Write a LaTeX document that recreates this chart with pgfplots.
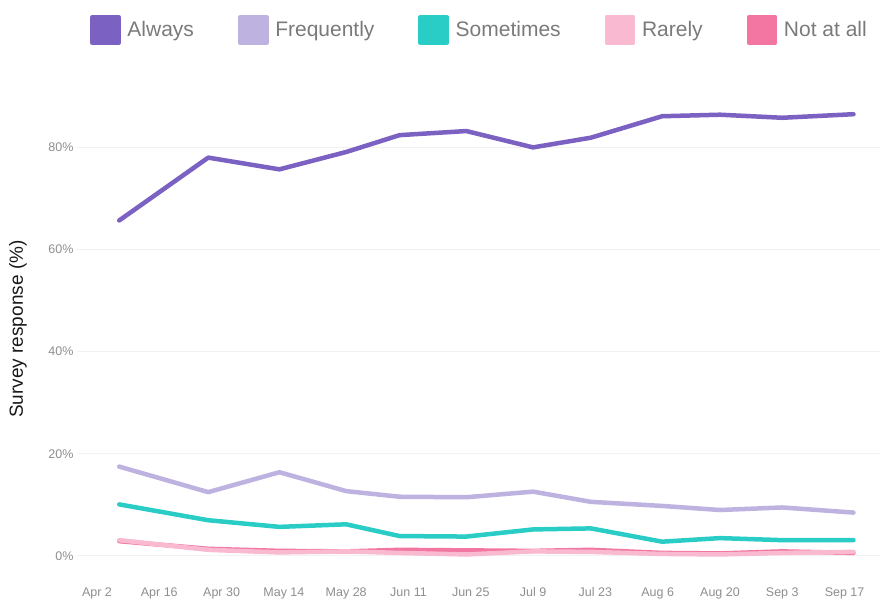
\documentclass[border=0pt]{standalone}
\usepackage{pgfplots}
\usepackage{pgfplotstable}
\pgfplotsset{compat=1.18}
\usepackage{fontspec}
\setmainfont{Liberation Sans}

\definecolor{always}{HTML}{7B62C2}
\definecolor{freq}{HTML}{BEB2E0}
\definecolor{sometimes}{HTML}{2ACCC6}
\definecolor{rarely}{HTML}{F9B9D1}
\definecolor{notatall}{HTML}{F276A1}
\definecolor{gridc}{HTML}{F2F2F2}
\definecolor{tickc}{HTML}{8E8E8E}
\definecolor{legc}{HTML}{7A7A7A}

% day = days after Apr 2
\pgfplotstableread{
day always freq some rare none
5   65.7 17.5 10.1 3.1 2.9
25  78.0 12.5  7.0 1.2 1.4
41  75.7 16.4  5.7 0.7 1.0
56  79.1 12.7  6.2 0.9 0.9
68  82.4 11.6  3.9 0.6 1.2
83  83.2 11.5  3.8 0.3 1.1
98  80.0 12.6  5.2 0.9 1.0
111 81.9 10.6  5.4 0.8 1.2
127 86.1  9.8  2.8 0.4 0.6
140 86.4  9.0  3.5 0.3 0.5
154 85.8  9.5  3.1 0.6 0.9
170 86.5  8.5  3.1 0.8 0.6
}\survey

\begin{document}
\begin{tikzpicture}[x=1pt,y=1pt]
\useasboundingbox (0,0) rectangle (880,598);
\begin{axis}[
    at={(77pt,26.7pt)}, anchor=south west,
    scale only axis, width=803pt, height=490.3pt,
    xmin=-4.49, xmax=175.96, ymin=-3, ymax=93,
    axis line style={draw=none},
    major tick style={draw=none},
    ymajorgrids, grid style={gridc, line width=1pt},
    xtick={0,14,...,168},
    xticklabels={Apr 2,Apr 16,Apr 30,May 14,May 28,Jun 11,Jun 25,Jul 9,Jul 23,Aug 6,Aug 20,Sep 3,Sep 17},
    ytick={0,20,40,60,80},
    yticklabels={0\%,20\%,40\%,60\%,80\%},
    /pgf/number format/assume math mode=true,
    ticklabel style={font=\fontsize{12.5}{15}\selectfont, text=tickc},
    xticklabel style={yshift=-13pt},
    ylabel={Survey response (\%)},
    ylabel style={at={(axis description cs:-0.0735,0.494)}, anchor=center, font=\fontsize{19}{22}\selectfont, text=black!90},
    legend columns=5,
    legend style={draw=none, fill=none, at={(axis description cs:0.0125,1.104)}, anchor=west,
        font=\fontsize{21}{25}\selectfont, text=legc,
        /tikz/every even column/.append style={column sep=42pt}},
    legend image code/.code={\path[draw=none, fill=none] (0pt,0pt) -- (33pt,0pt); \fill[#1] (0pt,-13pt) rectangle (26pt,13pt);},
    every axis plot/.append style={line width=4.5pt, line cap=round, line join=round, no markers},
]
\addplot[always, forget plot] table[x=day, y=always] {\survey};
\addplot[freq, forget plot] table[x=day, y=freq] {\survey};
\addplot[sometimes, forget plot] table[x=day, y=some] {\survey};
\addplot[notatall, forget plot] table[x=day, y=none] {\survey};
\addplot[rarely, forget plot] table[x=day, y=rare] {\survey};
\addlegendimage{always}\addlegendentry{Always}
\addlegendimage{freq}\addlegendentry{Frequently}
\addlegendimage{sometimes}\addlegendentry{Sometimes}
\addlegendimage{rarely}\addlegendentry{Rarely}
\addlegendimage{notatall}\addlegendentry{Not at all}
\end{axis}
\end{tikzpicture}
\end{document}
